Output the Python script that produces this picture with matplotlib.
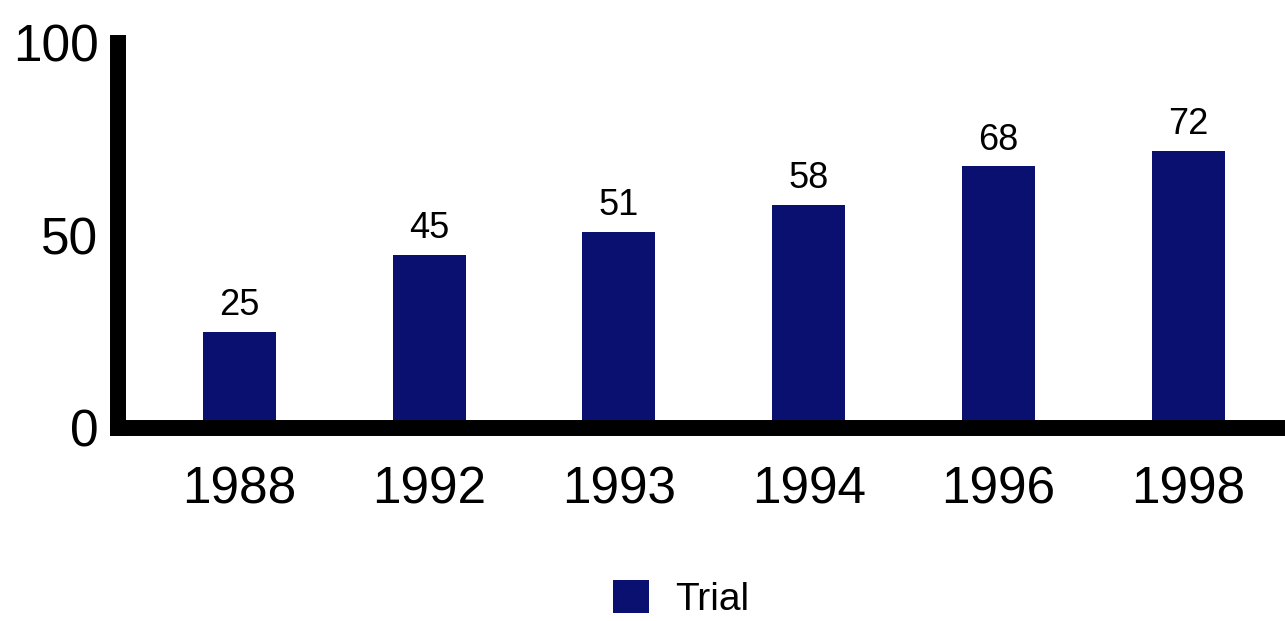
import numpy as np
import matplotlib
matplotlib.use("Agg")
from matplotlib import pyplot as plt

plt.rcParams['font.family'] = ['Liberation Sans', 'DejaVu Sans']

years = ['1988', '1992', '1993', '1994', '1996', '1998']
trial = [25, 45, 51, 58, 68, 72]
yticks = [0, 50, 100]

bar_color = '#0a1070'

fig = plt.figure(figsize=(12.85, 6.21), dpi=100)
ax = fig.add_axes([0.0918, 0.311, 0.9082, 0.620])

x = np.arange(len(years))
bars = ax.bar(x, trial, width=0.385, color=bar_color, label='Trial', zorder=1)
ax.bar_label(bars, labels=[str(v) for v in trial], padding=6, fontsize=26)

ax.set_xlim(-0.64, 5.51)
ax.set_ylim(0, 100)
ax.set_xticks(x)
ax.set_xticklabels(years)
ax.set_yticks(yticks)
ax.set_yticklabels([str(t) for t in yticks])
ax.tick_params(axis='x', length=0, pad=27, labelsize=37)
ax.tick_params(axis='y', length=0, pad=14, labelsize=37)

for side in ['top', 'right']:
    ax.spines[side].set_visible(False)
for side in ['left', 'bottom']:
    ax.spines[side].set_linewidth(11.5)
    ax.spines[side].set_capstyle('projecting')
    ax.spines[side].set_zorder(3)

fig.legend(loc='center', bbox_to_anchor=(0.53, 0.035), frameon=False,
           fontsize=28, handlelength=0.92, handleheight=0.92, handletextpad=0.68)

fig.savefig('out.png', dpi=100)
